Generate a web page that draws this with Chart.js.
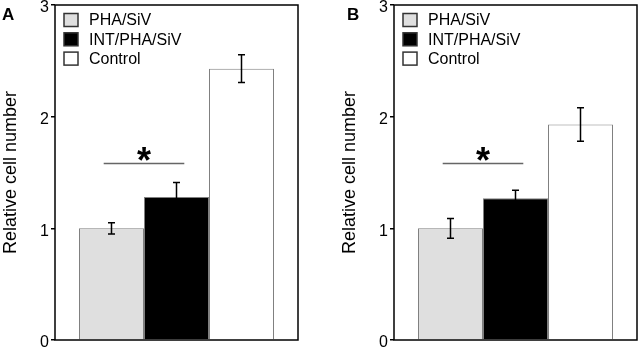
<!DOCTYPE html>
<html>
<head>
<meta charset="utf-8">
<script src="https://cdn.jsdelivr.net/npm/chart.js@4/dist/chart.umd.min.js"></script>
<style>
  html, body { margin: 0; padding: 0; background: #fff; }
  #wrap { position: relative; width: 640px; height: 351px; overflow: hidden; }
  .panel { position: absolute; top: 0; width: 301px; height: 351px; }
</style>
</head>
<body>
<div id="wrap">
  <div class="panel" style="left:0px"><canvas id="chartA" width="301" height="351"></canvas></div>
  <div class="panel" style="left:339px"><canvas id="chartB" width="301" height="351"></canvas></div>
</div>
<script>
// data
const groups = ["PHA/SiV", "INT/PHA/SiV", "Control"];
const meansA = [1.0, 1.28, 2.43];
const errorsA = [0.05, 0.13, 0.125];
const meansB = [1.0, 1.27, 1.93];
const errorsB = [0.088, 0.07, 0.15];
const sigLevelA = 1.58;
const sigLevelB = 1.58;
const yTicks = [0, 1, 2, 3];

const FONT = "Arial, 'Liberation Sans', sans-serif";
const fills = ["#dfdfdf", "#000000", "#ffffff"];

// error bars, frame, significance marker, legend and panel letter
const extras = {
  id: "extras",
  afterDatasetsDraw(chart, args, opts) {
    const ctx = chart.ctx;
    const area = chart.chartArea;
    const y = chart.scales.y;
    ctx.save();

    ctx.strokeStyle = "#000";
    ctx.lineWidth = 1.5;
    chart.data.datasets.forEach((ds, i) => {
      const bar = chart.getDatasetMeta(i).data[0];
      const v = ds.data[0], e = opts.errors[i];
      const top = y.getPixelForValue(v + e), bot = y.getPixelForValue(v - e);
      ctx.beginPath();
      ctx.moveTo(bar.x, top); ctx.lineTo(bar.x, bot);
      ctx.moveTo(bar.x - 3.5, top); ctx.lineTo(bar.x + 3.5, top);
      ctx.moveTo(bar.x - 3.5, bot); ctx.lineTo(bar.x + 3.5, bot);
      ctx.stroke();
    });

    // box around plot
    ctx.strokeRect(area.left, area.top, area.right - area.left, area.bottom - area.top);

    // * over bars 1 and 2
    const b0 = chart.getDatasetMeta(0).data[0];
    const b1 = chart.getDatasetMeta(1).data[0];
    const mid = (b0.x + b1.x) / 2;
    const half = b0.width * 0.62;
    const ly = y.getPixelForValue(opts.sig);
    ctx.strokeStyle = "#666";
    ctx.beginPath();
    ctx.moveTo(mid - half, ly); ctx.lineTo(mid + half, ly);
    ctx.stroke();
    ctx.fillStyle = "#000";
    ctx.font = "bold 36px " + FONT;
    ctx.textAlign = "center";
    ctx.textBaseline = "alphabetic";
    ctx.fillText("*", mid, ly + 9);

    // legend
    ctx.font = "16px " + FONT;
    ctx.textAlign = "left";
    ctx.textBaseline = "middle";
    chart.data.datasets.forEach((ds, i) => {
      const cy = area.top + 15 + i * 19.3;
      ctx.fillStyle = ds.backgroundColor;
      ctx.fillRect(area.left + 9, cy - 6.5, 14, 13);
      ctx.strokeStyle = "#333";
      ctx.lineWidth = 1.5;
      ctx.strokeRect(area.left + 9, cy - 6.5, 14, 13);
      ctx.fillStyle = "#000";
      ctx.fillText(ds.label, area.left + 34, cy + 1);
    });

    // panel letter
    ctx.font = "bold 17px " + FONT;
    ctx.textBaseline = "alphabetic";
    ctx.fillText(opts.letter, opts.letterX, 20);
    ctx.restore();
  }
};

function makeChart(id, means, errors, sig, letter, letterX) {
  return new Chart(document.getElementById(id), {
    type: "bar",
    data: {
      labels: [""],
      datasets: groups.map((g, i) => ({
        label: g,
        data: [means[i]],
        backgroundColor: fills[i],
        borderColor: "#808080",
        borderWidth: 1,
        barPercentage: 1,
        categoryPercentage: 0.8025
      }))
    },
    options: {
      responsive: false,
      animation: false,
      devicePixelRatio: 1,
      layout: { padding: { left: 0, right: 3, top: 5, bottom: 11 } },
      plugins: {
        legend: { display: false },
        tooltip: { enabled: false },
        extras: { errors: errors, sig: sig, letter: letter, letterX: letterX }
      },
      scales: {
        x: { display: false },
        y: {
          min: 0,
          max: 3,
          afterBuildTicks: (s) => { s.ticks = yTicks.map(v => ({ value: v })); },
          afterFit: (s) => { s.width = 55; s.paddingTop = 0; s.paddingBottom = 0; },
          border: { display: false },
          grid: { drawOnChartArea: false, drawTicks: true, tickLength: 4, color: "#000", lineWidth: 1.5 },
          ticks: { color: "#000", font: { family: FONT, size: 16 }, padding: 2, labelOffset: 3 },
          title: {
            display: true,
            text: "Relative cell number",
            color: "#000",
            font: { family: FONT, size: 18 },
            padding: { top: 0, bottom: 0 }
          }
        }
      }
    },
    plugins: [extras]
  });
}

makeChart("chartA", meansA, errorsA, sigLevelA, "A", 2);
makeChart("chartB", meansB, errorsB, sigLevelB, "B", 8);
</script>
</body>
</html>
